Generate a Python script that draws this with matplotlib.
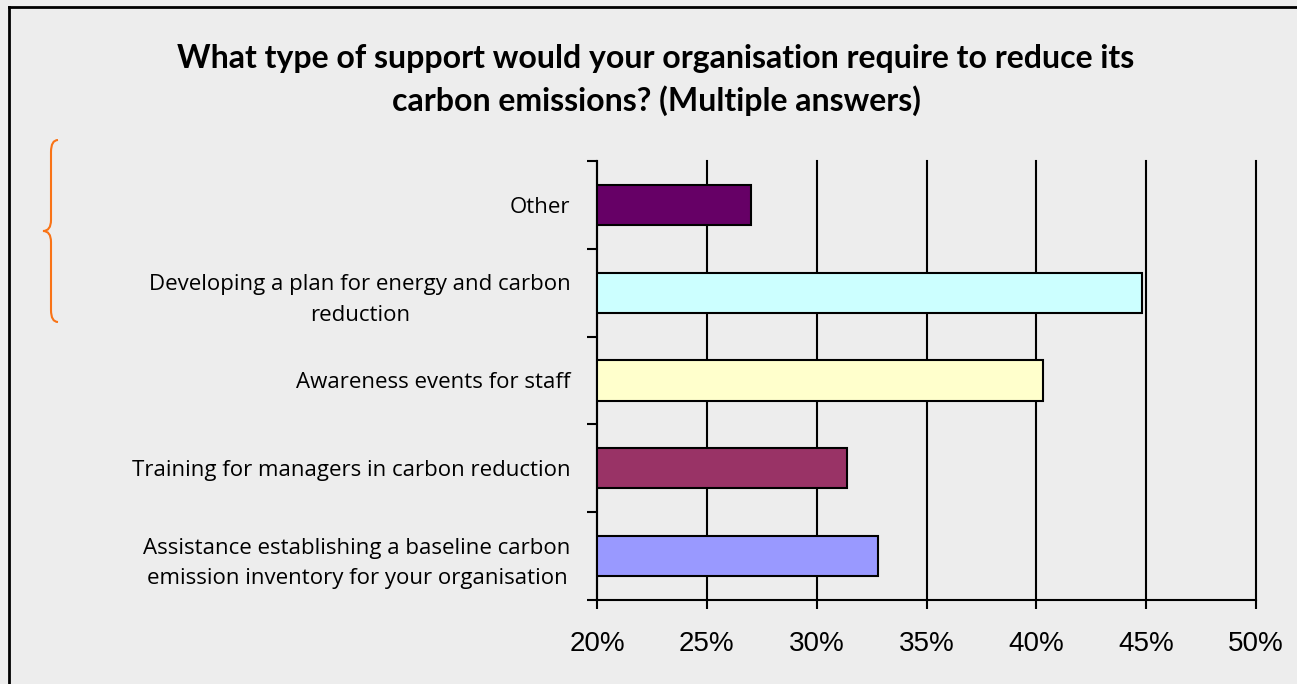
import matplotlib
matplotlib.use("Agg")
import matplotlib.pyplot as plt
from matplotlib.path import Path
from matplotlib.patches import PathPatch
from matplotlib.ticker import FixedLocator, PercentFormatter
import numpy as np

# data (bottom to top)
categories = [
    "Assistance establishing a baseline carbon\nemission inventory for your organisation",
    "Training for managers in carbon reduction",
    "Awareness events for staff",
    "Developing a plan for energy and carbon\nreduction",
    "Other",
]
values = [32.8, 31.4, 40.3, 44.8, 27.0]
bar_colors = ["#9999FF", "#993366", "#FFFFCC", "#CCFFFF", "#660066"]
x_ticks = [20, 25, 30, 35, 40, 45, 50]

bg = "#EDEDED"
W, H = 1297, 684

fig = plt.figure(figsize=(W / 100, H / 100), dpi=100, facecolor=bg)
ax = fig.add_axes([597 / W, 1 - 600 / H, (1256 - 597) / W, (600 - 161) / H])
ax.set_facecolor(bg)

y = np.arange(len(categories))
ax.barh(y, values, height=0.46, color=bar_colors, edgecolor="black",
        linewidth=1.5, zorder=3)

ax.set_xlim(20, 50)
ax.set_ylim(-0.5, len(categories) - 0.5)
ax.xaxis.set_major_locator(FixedLocator(x_ticks))
ax.xaxis.set_major_formatter(PercentFormatter(decimals=0))
ax.grid(axis="x", color="black", linewidth=1.5, zorder=1)
ax.set_axisbelow(True)
for gl in ax.get_xgridlines():
    gl.set_clip_on(False)

for s in ["top", "right"]:
    ax.spines[s].set_visible(False)
for s in ["left", "bottom"]:
    ax.spines[s].set_linewidth(1.5)
    ax.spines[s].set_zorder(4)

ax.set_yticks(y)
ax.set_yticklabels(categories, multialignment="center", linespacing=1.6)
ax.yaxis.set_minor_locator(FixedLocator(np.arange(-0.5, len(categories), 1.0)))
ax.tick_params(axis="y", which="major", length=0, pad=19)
ax.tick_params(axis="y", which="minor", length=7, width=1.5, direction="out")
ax.tick_params(axis="x", length=6.5, width=1.5, direction="out", pad=16)
for lab in ax.get_yticklabels():
    lab.set_fontfamily("Open Sans")
    lab.set_fontsize(16)
for lab in ax.get_xticklabels():
    lab.set_fontfamily("Liberation Sans")
    lab.set_fontsize(20)

fig.text(656 / W, 1 - 80 / H,
         "What type of support would your organisation require to reduce its\ncarbon emissions? (Multiple answers)",
         ha="center", va="center", fontsize=23, fontweight="bold",
         family="Lato", linespacing=1.5)

# orange brace on the left
px = lambda x, yy: (x / W, 1 - yy / H)
verts = [px(58, 140), px(51, 140), px(51, 152), px(51, 152),
         px(51, 220), px(51, 231), px(43, 231),
         px(51, 231), px(51, 242), px(51, 242),
         px(51, 310), px(51, 322), px(58, 322)]
codes = [Path.MOVETO, Path.CURVE3, Path.CURVE3, Path.LINETO,
         Path.LINETO, Path.CURVE3, Path.CURVE3,
         Path.CURVE3, Path.CURVE3, Path.LINETO,
         Path.LINETO, Path.CURVE3, Path.CURVE3]
fig.patches.append(PathPatch(Path(verts, codes), facecolor="none",
                             edgecolor="#F97316", linewidth=1.5,
                             transform=fig.transFigure))

# outer frame (left and top edges visible)
fig.add_artist(plt.Line2D([9 / W, 9 / W], [0, 1 - 7 / H], color="black",
                          linewidth=2, transform=fig.transFigure))
fig.add_artist(plt.Line2D([9 / W, 1], [1 - 7 / H, 1 - 7 / H], color="black",
                          linewidth=2, transform=fig.transFigure))

fig.savefig("out.png", dpi=100, facecolor=bg)
